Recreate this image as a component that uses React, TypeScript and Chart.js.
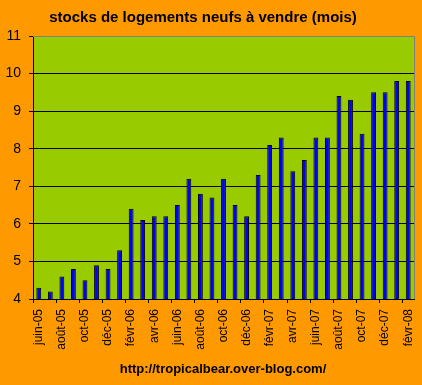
import React, { useEffect, useRef } from "react";
import { Chart, registerables } from "chart.js";

Chart.register(...registerables);

const months: string[] = [
  "juin-05", "juil-05", "août-05", "sept-05", "oct-05", "nov-05", "déc-05",
  "janv-06", "févr-06", "mars-06", "avr-06", "mai-06", "juin-06", "juil-06",
  "août-06", "sept-06", "oct-06", "nov-06", "déc-06", "janv-07", "févr-07",
  "mars-07", "avr-07", "mai-07", "juin-07", "juil-07", "août-07", "sept-07",
  "oct-07", "nov-07", "déc-07", "janv-08", "févr-08",
];

const stockMonths: number[] = [
  4.3, 4.2, 4.6, 4.8, 4.5, 4.9, 4.8,
  5.3, 6.4, 6.1, 6.2, 6.2, 6.5, 7.2,
  6.8, 6.7, 7.2, 6.5, 6.2, 7.3, 8.1,
  8.3, 7.4, 7.7, 8.3, 8.3, 9.4, 9.3,
  8.4, 9.5, 9.5, 9.8, 9.8,
];

const titleText = "stocks de logements neufs à vendre (mois)";
const footerText = "http://tropicalbear.over-blog.com/";
const yMin = 4;
const yMax = 11;

const ORANGE = "#FF9900";
const GREEN = "#99CC00";
const BLUE = "#0000FF";
const FONT = "Arial, 'Liberation Sans', sans-serif";

export default function App() {
  const ref = useRef<HTMLCanvasElement | null>(null);

  useEffect(() => {
    document.body.style.margin = "0";
    const canvas = ref.current;
    if (!canvas) return;

    const bgPlugin = {
      id: "bgPlugin",
      beforeDraw(chart: any) {
        const { ctx, chartArea } = chart;
        ctx.save();
        ctx.fillStyle = ORANGE;
        ctx.fillRect(0, 0, chart.width, chart.height);
        ctx.fillStyle = GREEN;
        ctx.fillRect(chartArea.left, chartArea.top, chartArea.right - chartArea.left, chartArea.bottom - chartArea.top);
        ctx.restore();
      },
      afterDraw(chart: any) {
        const { ctx, chartArea } = chart;
        ctx.save();
        ctx.strokeStyle = "#808080";
        ctx.lineWidth = 1;
        ctx.beginPath();
        ctx.moveTo(chartArea.left, chartArea.top + 0.5);
        ctx.lineTo(chartArea.right + 0.5, chartArea.top + 0.5);
        ctx.lineTo(chartArea.right + 0.5, chartArea.bottom);
        ctx.stroke();
        ctx.fillStyle = "#000";
        ctx.textAlign = "center";
        ctx.textBaseline = "middle";
        ctx.font = `bold 15px ${FONT}`;
        ctx.fillText(titleText, 203, 18);
        ctx.font = `bold 13px ${FONT}`;
        ctx.fillText(footerText, 223, 369);
        ctx.restore();
      },
    };

    const chart = new Chart(canvas, {
      type: "bar",
      data: {
        labels: months,
        datasets: [
          {
            data: stockMonths,
            backgroundColor: BLUE,
            borderColor: "#000",
            borderWidth: 1,
            barPercentage: 0.42,
            categoryPercentage: 1,
          },
        ],
      },
      options: {
        animation: false,
        responsive: false,
        devicePixelRatio: 1,
        layout: { padding: { top: 36, right: 8, left: 0, bottom: 0 } },
        plugins: {
          legend: { display: false },
          tooltip: { enabled: false },
          title: { display: false },
        },
        scales: {
          x: {
            offset: true,
            afterFit(scale: any) {
              scale.height = 86;
              scale.paddingLeft = 0;
              scale.paddingRight = 0;
            },
            grid: {
              offset: true,
              drawOnChartArea: false,
              drawTicks: true,
              tickLength: 4,
              tickColor: (ctx: any) =>
                typeof ctx.index === "number" && ctx.index % 2 === 0 ? "#000" : "rgba(0,0,0,0)",
              color: "rgba(0,0,0,0)",
            },
            border: { display: true, color: "#000", width: 1 },
            ticks: {
              autoSkip: false,
              maxRotation: 90,
              minRotation: 90,
              padding: 6,
              color: "#000",
              font: { family: FONT, size: 12 },
              callback: (_v: any, i: number) => (i % 2 === 0 ? months[i] : ""),
            },
          },
          y: {
            min: yMin,
            max: yMax,
            afterFit(scale: any) {
              scale.width = 33;
              scale.paddingTop = 0;
              scale.paddingBottom = 0;
            },
            grid: {
              color: (ctx: any) => (ctx.tick && ctx.tick.value === yMax ? "#808080" : "#000"),
              tickColor: "#000",
              tickLength: 4,
              lineWidth: 1,
            },
            border: { display: true, color: "#000", width: 1 },
            ticks: {
              stepSize: 1,
              padding: 8,
              color: "#000",
              font: { family: FONT, size: 14 },
            },
          },
        },
      },
      plugins: [bgPlugin],
    });

    return () => chart.destroy();
  }, []);

  return (
    <div style={{ width: 422, height: 385, background: ORANGE }}>
      <canvas ref={ref} width={422} height={385} style={{ display: "block" }} />
    </div>
  );
}
